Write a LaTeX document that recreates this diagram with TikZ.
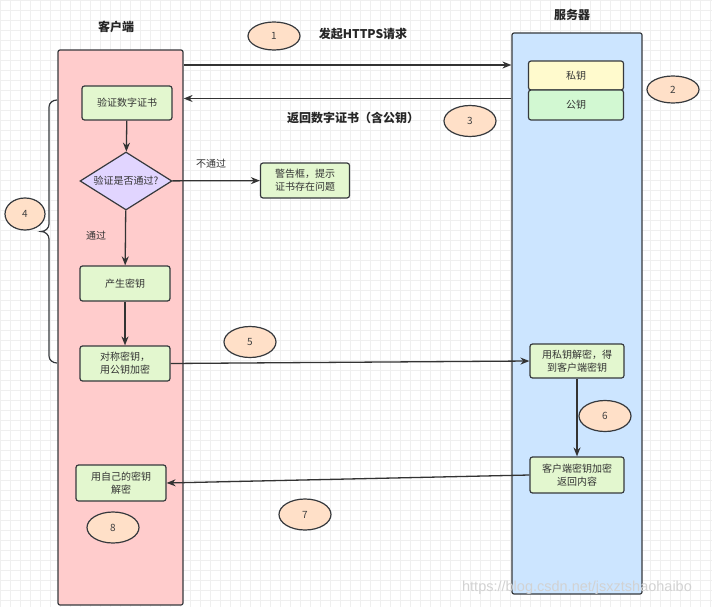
\documentclass[tikz,border=0pt]{standalone}
\usepackage{fontspec}
\setmainfont{Noto Sans CJK SC}
\newfontfamily\wmfont{Liberation Sans}
\usetikzlibrary{shapes.geometric,arrows.meta}
\definecolor{gridc}{HTML}{EFEFEF}
\definecolor{edgec}{HTML}{36393D}
\definecolor{clientfill}{HTML}{FFCCCC}
\definecolor{serverfill}{HTML}{CCE5FF}
\definecolor{boxfill}{HTML}{E3F7CF}
\definecolor{privfill}{HTML}{FFFACD}
\definecolor{pubfill}{HTML}{D2F8D2}
\definecolor{diafill}{HTML}{E1D5FF}
\definecolor{ovalfill}{HTML}{FFE0C8}
\definecolor{arrc}{HTML}{333333}
\tikzset{
  col/.style={draw=edgec, line width=1.2pt, rounded corners=2pt, inner sep=0pt},
  box/.style={draw=edgec, line width=1.2pt, rounded corners=2.5pt, fill=boxfill, inner sep=0pt,
    align=center, font=\fontsize{10}{13}\selectfont, text=black!80},
  oval/.style={ellipse, draw=edgec, line width=1.2pt, fill=ovalfill, inner sep=0pt,
    minimum width=52pt, minimum height=31pt, font=\fontsize{10}{12}\selectfont, text=black!75},
  arr/.style={draw=arrc, line width=1.3pt, -{Stealth[length=9pt,width=7pt]}},
  ln/.style={draw=arrc, line width=1.3pt},
  head/.style={font=\fontsize{12}{14}\selectfont\bfseries, text=black!85},
  lbl/.style={font=\fontsize{10}{12}\selectfont, text=black!80}
}
\begin{document}
\begin{tikzpicture}[x=1pt,y=-1pt]
\useasboundingbox (0,0) rectangle (712,607);
\fill[white] (0,0) rectangle (712,607);
\foreach \gx in {0,10,...,710} {\draw[gridc, line width=0.5pt] (\gx,0) -- (\gx,607);}
\foreach \gy in {0,10,...,600} {\draw[gridc, line width=0.5pt] (0,\gy) -- (712,\gy);}
% columns
\node[col, fill=clientfill, minimum width=125pt, minimum height=555pt] (client) at (120.5,327.5) {};
\node[col, fill=serverfill, minimum width=130pt, minimum height=561pt] (server) at (577,313.5) {};
\node[head] (tcl) at (116,27) {客户端};
\node[head] (tsv) at (572,15) {服务器};
% server keys
\node[box, fill=privfill, minimum width=95pt, minimum height=29pt] (priv) at (576,75.5) {私钥};
\node[box, fill=pubfill, minimum width=95pt, minimum height=30pt] (pub) at (576,105) {公钥};
% client steps
\node[box, minimum width=90pt, minimum height=34pt] (c1) at (127,103) {验证数字证书};
\node[diamond, draw=edgec, line width=1.2pt, fill=diafill, aspect=1.6, minimum width=92pt, minimum height=58pt,
  inner sep=0pt, font=\fontsize{10}{12}\selectfont, text=black!80] (c2) at (126,181) {验证是否通过?};
\node[box, minimum width=89pt, minimum height=35pt] (warn) at (305,180.5) {警告框，提示\\证书存在问题};
\node[box, minimum width=90pt, minimum height=35pt] (c3) at (125,283.5) {产生密钥};
\node[box, minimum width=90pt, minimum height=35pt] (c4) at (125,363.5) {对称密钥，\\用公钥加密};
\node[box, minimum width=90pt, minimum height=36pt] (c8) at (121,483) {用自己的密钥\\解密};
% server steps
\node[box, minimum width=94pt, minimum height=34pt] (s1) at (577,361) {用私钥解密，得\\到客户端密钥};
\node[box, minimum width=94pt, minimum height=36pt] (s2) at (577,475) {客户端密钥加密\\返回内容};
% ovals
\node[oval, minimum height=28pt] (o1) at (274,36) {1};
\node[oval, minimum height=27pt] (o2) at (673,89.5) {2};
\node[oval] (o3) at (470,121) {3};
\node[oval, minimum width=40pt, minimum height=32pt] (o4) at (25,214) {4};
\node[oval] (o5) at (250,342) {5};
\node[oval] (o6) at (605,416) {6};
\node[oval] (o7) at (305,514.5) {7};
\node[oval] (o8) at (113,527.5) {8};
% labels
\node[head] (t1) at (363,34) {发起HTTPS请求};
\node[head] (t2) at (353,118) {返回数字证书（含公钥）};
\node[lbl] (tno) at (211,164) {不通过};
\node[lbl] (tyes) at (96,236) {通过};
% connectors
\coordinate (p1) at (0,65);
\coordinate (p2) at (0,98.5);
\draw[arr] (client.east |- p1) -- (server.west |- p1);
\draw[arr] (server.west |- p2) -- (client.east |- p2);
\draw[arr] (c1) -- (c2);
\draw[arr] (c2) -- (warn);
\draw[arr] (c2) -- (c3);
\draw[arr] (c3) -- (c4);
\draw[arr] (c4.east) -- (s1.west);
\draw[arr] (s1) -- (s2);
\draw[arr] (s2.west) -- (c8.east);
% brace
\coordinate (bt) at (57,100);
\coordinate (bb) at (57,363);
\draw[ln, line width=1.2pt, draw=edgec] (bt) to[out=180,in=90] (49,107) -- (49,224)
  to[out=-90,in=0] (41,231.5) to[out=0,in=90] (49,239) -- (49,356) to[out=-90,in=180] (bb);
% watermark
\node[font=\wmfont\fontsize{14.5}{16}\selectfont, text=gray!35] (wm) at (577,588) {https://blog.csdn.net/jsxztshaohaibo};
\end{tikzpicture}
\end{document}
